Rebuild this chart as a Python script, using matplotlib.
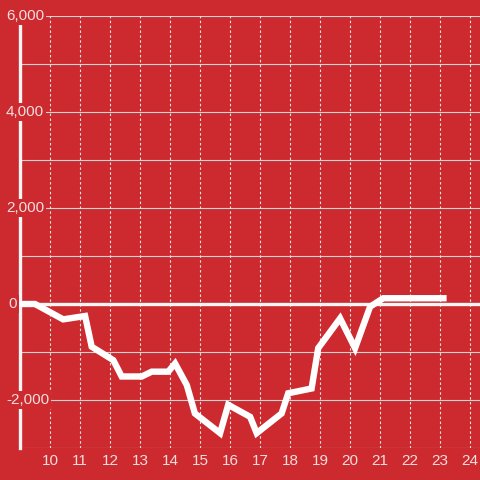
import matplotlib.pyplot as plt

# readings (hour of day, value)
hours = [9.0, 9.5, 10.44, 11.17, 11.39, 12.11, 12.39, 13.06, 13.39, 13.94, 14.17,
         14.56, 14.83, 15.67, 15.94, 16.67, 16.89, 17.72, 17.94, 18.72, 18.94,
         19.67, 20.17, 20.67, 21.11, 23.22]
values = [0, 0, -320, -250, -890, -1170, -1510, -1510, -1410, -1410, -1240,
          -1690, -2280, -2690, -2100, -2350, -2690, -2280, -1860, -1760, -920,
          -300, -920, -55, 120, 120]

x_ticks = list(range(10, 25))
y_grid = list(range(-3000, 6001, 1000))
y_labels = {6000: '6,000', 4000: '4,000', 2000: '2,000', 0: '0', -2000: '-2,000'}

bg = '#cc2a2f'
text_col = '#f3dede'

fig = plt.figure(figsize=(4.8, 4.8), dpi=100)
fig.patch.set_facecolor(bg)
ax = fig.add_axes([20 / 480, 32 / 480, 460 / 480, 432 / 480])
ax.set_facecolor(bg)
ax.set_xlim(9, 24 + 1 / 3)
ax.set_ylim(-3000, 6000)

for v in y_grid:
    ax.axhline(v, color='#d4d4d4', lw=0.8, zorder=1)
for t in x_ticks:
    ax.axvline(t, color='#e4e4e4', lw=0.8, ls=(0, (2.2, 2.2)), zorder=1)
ax.axhline(0, color='#f5f5f5', lw=2.4, zorder=2)

ax.plot(hours, values, color='white', lw=4.6, solid_joinstyle='miter',
        solid_capstyle='butt', zorder=3)

for s in ['top', 'right', 'bottom']:
    ax.spines[s].set_visible(False)
ax.spines['left'].set_color('#f5f5f5')
ax.spines['left'].set_linewidth(2.4)
ax.spines['left'].set_zorder(2)

ax.set_xticks(x_ticks)
ax.set_xticklabels([str(t) for t in x_ticks], fontsize=11, color=text_col,
                   fontfamily='Liberation Sans')
ax.tick_params(axis='x', length=0, pad=4)
ax.set_yticks([])

for v, lab in y_labels.items():
    ax.annotate(lab, xy=(0, v), xycoords=('axes fraction', 'data'),
                xytext=(-14 if v != 0 else -12, 0), textcoords='offset pixels',
                ha='left', va='center', fontsize=11,
                color=text_col, fontfamily='Liberation Sans', zorder=5,
                bbox=dict(boxstyle='square,pad=0.15', fc=bg, ec='none'))

fig.savefig('out.png', dpi=100, facecolor=bg)
